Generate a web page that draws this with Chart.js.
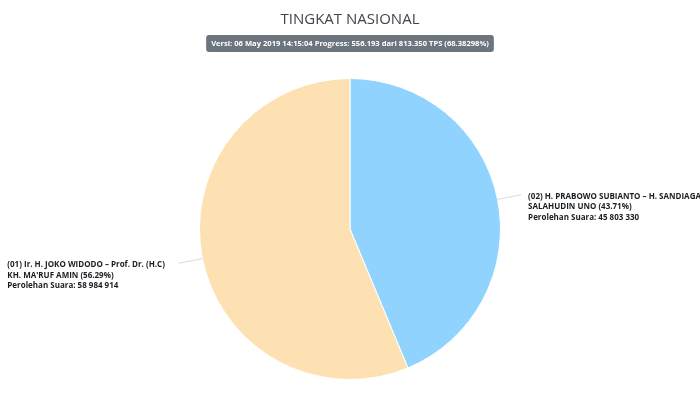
<!DOCTYPE html>
<html>
<head>
<meta charset="utf-8">
<script src="https://cdn.jsdelivr.net/npm/chart.js@4"></script>
<style>
	html, body { margin: 0; padding: 0; background: #fff; }
	#wrap { width: 700px; height: 393px; position: relative; }
</style>
</head>
<body>
<div id="wrap"><canvas id="chart"></canvas></div>
<script>
// data
var titleText = 'TINGKAT NASIONAL';
var versionText = 'Versi: 06 May 2019 14:15:04 Progress: 556.193 dari 813.350 TPS (68.38298%)';
var candidateNames = [
	['(02) H. PRABOWO SUBIANTO \u2013 H. SANDIAGA', 'SALAHUDIN UNO'],
	['(01) Ir. H. JOKO WIDODO \u2013 Prof. Dr. (H.C)', "KH. MA'RUF AMIN"]
];
var votes = [45803330, 58984914];
var sliceColors = ['#90d3fe', '#fde1b2'];

var total = votes.reduce(function(a, b){ return a + b; }, 0);

function fmtVotes(n){
	return String(n).replace(/\B(?=(\d{3})+(?!\d))/g, ' ');
}

var labelFont = 'bold 8px "Open Sans", "Liberation Sans", sans-serif';

// title + version badge
var headerPlugin = {
	id: 'header',
	afterDraw: function(chart){
		var ctx = chart.ctx;
		ctx.save();
		ctx.fillStyle = '#3f464d';
		ctx.font = '15px "Open Sans", "Liberation Sans", sans-serif';
		ctx.textAlign = 'center';
		ctx.textBaseline = 'middle';
		ctx.fillText(titleText, 350, 20);

		ctx.font = 'bold 7.6px "Open Sans", "Liberation Sans", sans-serif';
		var w = ctx.measureText(versionText).width + 10;
		var x = 350 - w / 2, y = 35, h = 17;
		ctx.fillStyle = '#6c757d';
		ctx.beginPath();
		ctx.roundRect(x, y, w, h, 3);
		ctx.fill();
		ctx.fillStyle = '#ffffff';
		ctx.fillText(versionText, 350, y + h / 2 + 0.5);
		ctx.restore();
	}
};

// outside labels with leader lines, placed from the arc elements
var outLabels = {
	id: 'outLabels',
	afterDatasetsDraw: function(chart){
		var ctx = chart.ctx;
		var meta = chart.getDatasetMeta(0);
		ctx.save();
		ctx.font = labelFont;
		meta.data.forEach(function(arc, i){
			var p = arc.getProps(['x', 'y', 'startAngle', 'endAngle', 'outerRadius'], true);
			var mid = (p.startAngle + p.endAngle) / 2;
			var cx = Math.cos(mid), cy = Math.sin(mid);
			var x0 = p.x + cx * p.outerRadius, y0 = p.y + cy * p.outerRadius;
			var x1 = p.x + cx * (p.outerRadius + 24), y1 = p.y + cy * (p.outerRadius + 24);
			ctx.strokeStyle = '#d6dadd';
			ctx.lineWidth = 1;
			ctx.beginPath();
			ctx.moveTo(x0, y0);
			ctx.lineTo(x1, y1);
			ctx.stroke();

			var pct = (votes[i] / total * 100).toFixed(2);
			var lines = [
				candidateNames[i][0],
				candidateNames[i][1] + ' (' + pct + '%)',
				'Perolehan Suara: ' + fmtVotes(votes[i])
			];
			var maxW = 0;
			lines.forEach(function(l){ maxW = Math.max(maxW, ctx.measureText(l).width); });
			var tx = cx >= 0 ? x1 + 7 : x1 - 14 - maxW;
			ctx.fillStyle = '#1a1d20';
			ctx.textAlign = 'left';
			ctx.textBaseline = 'middle';
			lines.forEach(function(l, k){
				ctx.fillText(l, tx, y1 + 1.5 + k * 10.5);
			});
		});
		ctx.restore();
	}
};

var config = {
	type: 'pie',
	data: {
		labels: candidateNames.map(function(n){ return n.join(' '); }),
		datasets: [{
			data: votes,
			backgroundColor: sliceColors,
			borderColor: '#ffffff',
			borderWidth: 1
		}]
	},
	options: {
		responsive: false,
		animation: false,
		layout: { padding: { top: 78, bottom: 13 } },
		plugins: {
			legend: { display: false },
			tooltip: { enabled: false }
		}
	},
	plugins: [headerPlugin, outLabels]
};

var canvas = document.getElementById('chart');
canvas.width = 700;
canvas.height = 393;
new Chart(canvas, config);
</script>
</body>
</html>
